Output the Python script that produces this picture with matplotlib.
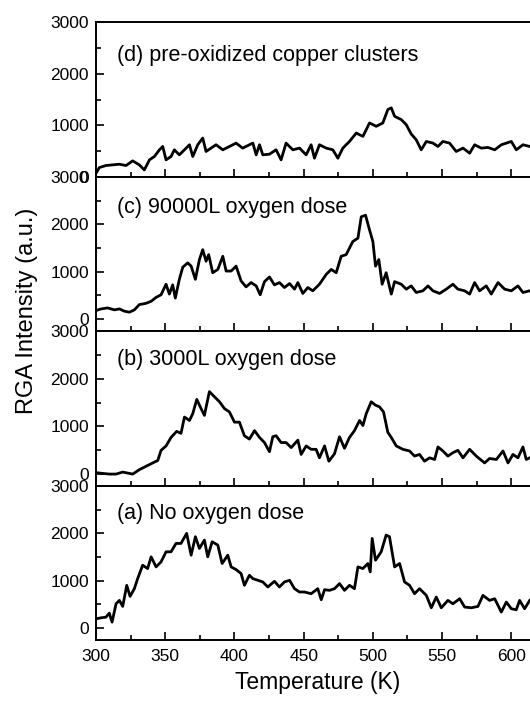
import matplotlib
matplotlib.use("Agg")
import matplotlib.pyplot as plt
from matplotlib.ticker import MultipleLocator

plt.rcParams['font.family'] = ['Liberation Sans', 'DejaVu Sans']

# ---------------- data ----------------
T_d = [300, 302.4, 307.2, 312, 316.9, 321.7, 326.5, 331.3, 334.9, 338.6, 342.2, 345.8, 348.2,
       350.6, 354.2, 356.6, 360.2, 363.9, 367.5, 369.9, 373.5, 377.1, 379.5, 383.1, 386.7,
       391.6, 396.4, 401.2, 406, 410.8, 413.3, 415.7, 418.1, 420.5, 425.3, 430.1, 433.7,
       437.3, 442.2, 447, 451.8, 455.4, 457.8, 461.4, 466.3, 471.1, 474.7, 478.3, 483.1,
       488, 492.8, 497.6, 502.4, 507.2, 510.8, 513.3, 515.7, 520.5, 524.1, 527.7, 531.3,
       534.9, 538.6, 543.4, 547, 550.6, 555.4, 560.2, 565.1, 569.9, 573.5, 578.3, 583.1,
       588, 592.8, 596.4, 600, 603.6, 608.4, 613.3]
I_d = [72, 183, 222, 235, 247, 222, 312, 235, 137, 332, 397, 526, 591,
       332, 397, 526, 429, 526, 624, 397, 624, 754, 494, 559, 624,
       526, 591, 656, 559, 624, 656, 429, 624, 429, 442, 526, 332,
       656, 526, 559, 429, 624, 364, 624, 559, 526, 364, 559, 688,
       851, 786, 1046, 981, 1046, 1305, 1338, 1175, 1111, 1013, 832, 721,
       526, 688, 656, 591, 688, 656, 494, 559, 461, 624, 559, 572,
       526, 624, 656, 688, 526, 624, 591]

T_c = [300, 303.6, 308.4, 313.3, 316.9, 320.5, 324.1, 327.7, 331.3, 336.1, 339.8, 343.4, 347.0,
       350.6, 353.0, 355.4, 357.3, 360.2, 362.7, 366.3, 368.7, 371.8, 374.7, 377.1, 379.5,
       381.4, 384.3, 388.0, 391.6, 394.0, 397.6, 401.2, 404.8, 408.4, 412.0, 415.7, 418.6,
       421.7, 425.3, 428.9, 432.5, 436.1, 439.8, 443.4, 445.8, 449.4, 453.0, 456.6, 461.4,
       466.3, 469.9, 473.5, 477.1, 480.7, 485.5, 489.2, 491.6, 494.7, 497.6, 500.0, 501.9,
       504.3, 506.7, 509.6, 513.3, 515.7, 520.5, 524.1, 527.7, 531.3, 536.1, 539.8, 543.4,
       548.2, 553.0, 557.8, 561.4, 566.3, 569.9, 573.5, 577.1, 581.9, 585.5, 590.4, 595.2,
       600.0, 604.8, 608.4, 613.3]
I_c = [182, 216, 237, 196, 216, 168, 147, 196, 307, 334, 376, 459, 515,
       737, 529, 723, 445, 841, 1098, 1188, 1119, 841, 1257, 1466, 1223,
       1362, 980, 1049, 1327, 1015, 1015, 1119, 806, 681, 772, 702, 515,
       792, 890, 723, 772, 667, 751, 633, 772, 543, 667, 598, 737,
       945, 1049, 980, 1327, 1362, 1639, 1709, 2160, 2194, 1882, 1639, 1119,
       1257, 737, 980, 529, 792, 737, 633, 702, 563, 598, 702, 598,
       543, 633, 737, 633, 598, 529, 772, 598, 702, 529, 772, 633,
       598, 702, 563, 598]

T_b = [300, 304.8, 309.6, 314.5, 319.3, 322.9, 326.5, 331.3, 336.1, 341.0, 344.6, 347.0, 350.6,
       354.2, 358.3, 361.4, 363.9, 367.5, 369.9, 372.8, 375.9, 378.3, 381.9, 385.5, 389.2,
       392.8, 396.4, 400.0, 403.6, 407.2, 410.8, 414.5, 418.1, 421.7, 425.3, 427.7, 430.1,
       433.7, 437.3, 441.0, 445.8, 448.2, 451.8, 455.4, 459.0, 461.4, 465.1, 468.2, 472.3,
       475.9, 479.5, 483.1, 486.7, 490.4, 492.8, 495.2, 498.8, 501.9, 504.8, 507.7, 510.8,
       513.3, 516.9, 521.7, 526.5, 530.1, 533.7, 537.3, 541.0, 544.6, 547.0, 550.6, 554.2,
       557.8, 561.4, 565.1, 569.9, 574.7, 580.7, 584.3, 589.2, 594.0, 597.6, 601.2, 604.8,
       608.4, 610.8, 613.3]
I_b = [30, 14, 0, 0, 42, 21, 0, 92, 163, 234, 284, 498, 590,
       768, 896, 854, 1195, 1124, 1267, 1566, 1373, 1231, 1729, 1623, 1516,
       1373, 1302, 1089, 1089, 804, 733, 911, 768, 661, 469, 783, 804,
       661, 661, 555, 711, 412, 590, 519, 519, 341, 590, 270, 427,
       783, 540, 768, 911, 1124, 1017, 1267, 1516, 1445, 1409, 1302, 875,
       768, 590, 519, 484, 377, 412, 270, 341, 306, 569, 484, 377,
       448, 498, 341, 519, 377, 234, 327, 306, 484, 234, 412, 341,
       569, 306, 341]

T_a = [300, 303.6, 307.2, 309.6, 311.6, 314.5, 316.9, 319.3, 322.2, 324.6, 327.7, 330.1, 333.7,
       337.3, 339.8, 343.4, 347.0, 350.6, 354.2, 357.8, 361.4, 365.5, 368.7, 371.8, 374.7,
       378.3, 380.7, 383.9, 388.0, 391.1, 395.2, 397.6, 401.2, 404.8, 407.2, 410.8, 413.3,
       416.9, 420.5, 424.1, 428.9, 432.5, 436.1, 439.8, 443.4, 447.0, 450.6, 455.4, 460.2,
       462.7, 465.1, 468.7, 472.3, 475.9, 479.5, 483.1, 486.7, 489.2, 492.8, 496.4, 498.1,
       499.5, 501.9, 506.0, 509.6, 512.0, 515.7, 519.3, 522.9, 526.5, 530.1, 533.7, 538.6,
       542.2, 545.8, 549.4, 554.2, 557.8, 562.7, 566.3, 571.1, 575.9, 579.5, 584.3, 588.0,
       592.8, 596.4, 600.0, 603.6, 606.0, 609.6, 613.3]
I_a = [197, 218, 232, 317, 127, 515, 586, 459, 904, 671, 833, 1046, 1328,
       1258, 1505, 1293, 1399, 1611, 1611, 1788, 1788, 2000, 1540, 1929, 1682,
       1859, 1505, 1823, 1753, 1364, 1540, 1293, 1236, 1152, 904, 1116, 1046,
       1010, 975, 869, 989, 869, 975, 1010, 833, 763, 763, 727, 833,
       600, 812, 798, 833, 940, 798, 904, 833, 1293, 1258, 1364, 1187,
       1894, 1434, 1611, 1965, 1929, 1293, 1364, 975, 904, 727, 833, 692,
       430, 657, 430, 586, 515, 621, 445, 430, 459, 692, 586, 621,
       339, 551, 410, 388, 586, 410, 586]

panel_labels = ["(d) pre-oxidized copper clusters", "(c) 90000L oxygen dose",
                "(b) 3000L oxygen dose", "(a) No oxygen dose"]
series = [(T_d, I_d), (T_c, I_c), (T_b, I_b), (T_a, I_a)]
ylims = [(0, 3000), (-250, 3000), (-250, 3000), (-250, 3000)]
label_y = [2250, 2240, 2280, 2310]
xlim = (300, 620)

# ---------------- figure ----------------
W, H = 530, 702
fig = plt.figure(figsize=(W / 100, H / 100), dpi=100)

left_px, right_px = 96, 539
edges = [22, 177, 331, 486, 640]

axes = []
for i in range(4):
    top, bot = edges[i], edges[i + 1]
    ax = fig.add_axes([left_px / W, 1 - bot / H, (right_px - left_px) / W, (bot - top) / H])
    axes.append(ax)
    T, I = series[i]
    ax.plot(T, I, color='black', lw=2.0, solid_joinstyle='round')
    ax.set_xlim(*xlim)
    ax.set_ylim(*ylims[i])
    ax.xaxis.set_major_locator(MultipleLocator(50))
    ax.xaxis.set_minor_locator(MultipleLocator(25))
    ax.yaxis.set_major_locator(MultipleLocator(1000))
    ax.yaxis.set_minor_locator(MultipleLocator(500))
    ax.tick_params(axis='both', which='both', direction='in', top=False, right=False,
                   labelsize=12.5, width=1.2)
    ax.tick_params(axis='both', which='major', length=6)
    ax.tick_params(axis='both', which='minor', length=3.5)
    ax.tick_params(axis='x', pad=6.5)
    ax.tick_params(axis='y', pad=5)
    for s in ax.spines.values():
        s.set_linewidth(1.4)
    if i < 3:
        ax.tick_params(axis='x', labelbottom=False)
    ax.text(315.5, label_y[i], panel_labels[i], fontsize=15.5, va='baseline', ha='left')

axes[-1].set_xlabel("Temperature (K)", fontsize=16.5, labelpad=5)
fig.text(27 / W, 1 - 311 / H, "RGA Intensity (a.u.)", rotation=90, fontsize=17,
         ha='center', va='center')

fig.savefig("out.png", dpi=100)
